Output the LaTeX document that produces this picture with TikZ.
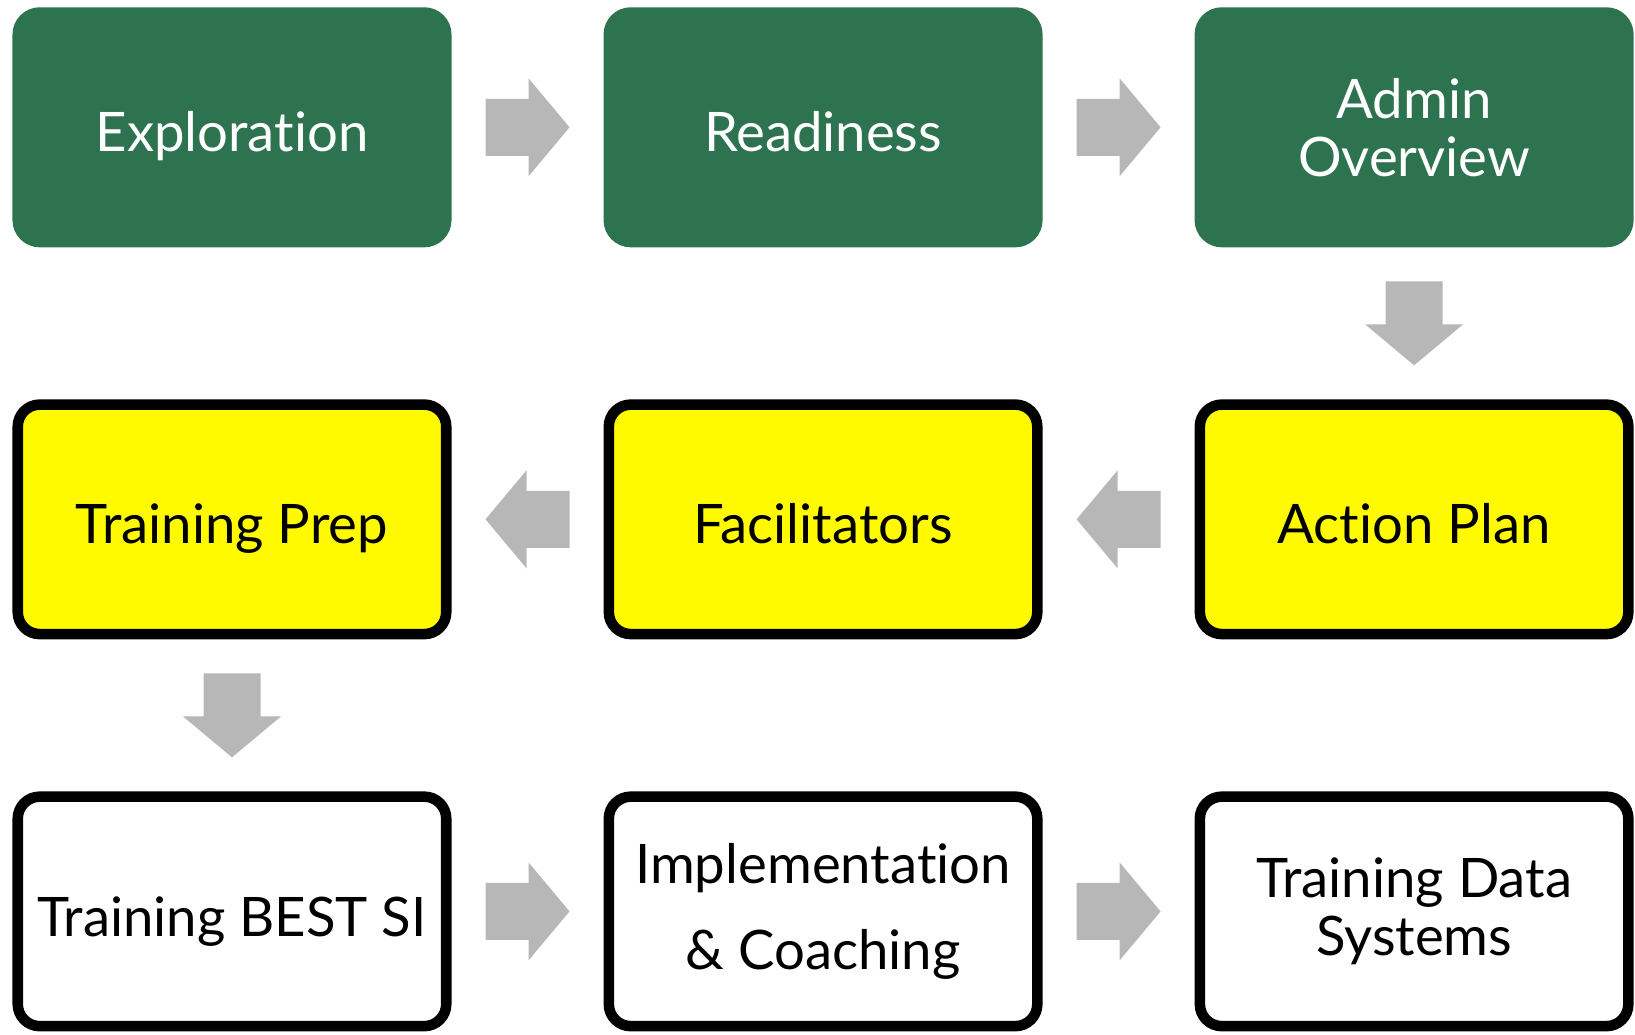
\documentclass[tikz,border=0pt]{standalone}
\usepackage{fontspec}
\setmainfont{Lato}[Ligatures={NoCommon}]
\usetikzlibrary{positioning,calc}

\definecolor{stagegreen}{RGB}{46,115,80}
\definecolor{stageyellow}{RGB}{255,250,0}
\definecolor{arrgray}{RGB}{183,183,183}

\begin{document}
\begin{tikzpicture}[node distance=1.52cm, box/.style={draw, line width=3pt, rounded corners=0.22cm, align=center, minimum width=4.285cm, minimum height=2.295cm, font=\fontsize{15.5}{16.5}\selectfont}, single/.style={text height=16pt, text depth=2pt}, greenbox/.style={box, draw=stagegreen, fill=stagegreen, text=white}, yellowbox/.style={box, fill=stageyellow}, whitebox/.style={box, fill=white}, blockarr/.pic={\fill[arrgray] (-0.42,-0.285) -- (0.01,-0.285) -- (0.01,-0.49) -- (0.42,0) -- (0.01,0.49) -- (0.01,0.285) -- (-0.42,0.285) -- cycle;}]
    \useasboundingbox (0,0) rectangle (16.35,-10.34);
    % first row
    \node[greenbox, single] (explore) at (2.32,-1.273) {Exploration};
    \node[greenbox, single, right=of explore] (ready) {Readiness};
    \node[greenbox, right=of ready] (admin) {Admin\\Overview};
    % second row, right to left
    \node[yellowbox, single, below=of admin] (plan) {Action Plan};
    \node[yellowbox, single, below=of ready] (facil) {Facilitators};
    \node[yellowbox, single, below=of explore] (prep) {Training Prep};
    % third row
    \node[whitebox, single, below=of prep] (best) {Training BEST SI};
    \node[whitebox, below=of facil] (impl) {Implementation\\[8pt]\& Coaching};
    \node[whitebox, below=of plan] (data) {Training Data\\Systems};
    % block arrows between the stages
    \pic at ($(explore.east)!0.5!(ready.west)$) {blockarr};
    \pic at ($(ready.east)!0.5!(admin.west)$) {blockarr};
    \pic[rotate=270] at ($(admin.south)!0.5!(plan.north)$) {blockarr};
    \pic[rotate=180] at ($(plan.west)!0.5!(facil.east)$) {blockarr};
    \pic[rotate=180] at ($(facil.west)!0.5!(prep.east)$) {blockarr};
    \pic[rotate=270] at ($(prep.south)!0.5!(best.north)$) {blockarr};
    \pic at ($(best.east)!0.5!(impl.west)$) {blockarr};
    \pic at ($(impl.east)!0.5!(data.west)$) {blockarr};
  \end{tikzpicture}
\end{document}
